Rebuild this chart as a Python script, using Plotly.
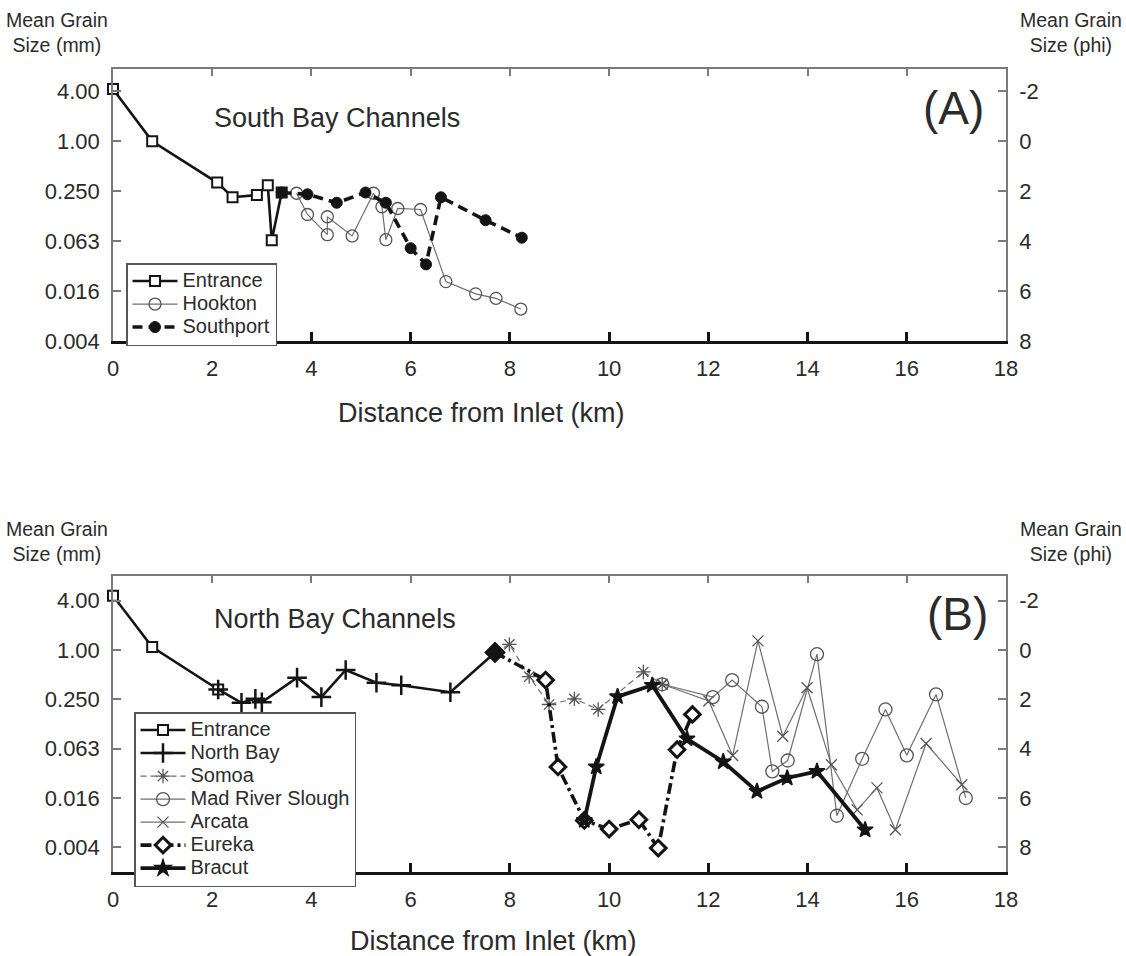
import plotly.graph_objects as go

# ---------------- data (distance in km, grain size in phi) ----------------
mm_tick_labels = ["4.00", "1.00", "0.250", "0.063", "0.016", "0.004"]
phi_tick_vals = [-2, 0, 2, 4, 6, 8]
phi_tick_labels = ["-2", "0", "2", "4", "6", "8"]
km_tick_vals = [0, 2, 4, 6, 8, 10, 12, 14, 16, 18]

# Panel A - South Bay Channels
a_entrance_km = [0.0, 0.79, 2.10, 2.41, 2.90, 3.12, 3.20, 3.40]
a_entrance_phi = [-2.1, 0.0, 1.65, 2.24, 2.15, 1.76, 3.96, 2.05]
hookton_km = [3.70, 3.92, 4.32, 4.32, 4.82, 5.25, 5.42, 5.50, 5.74, 6.20, 6.71, 7.31, 7.72, 8.22]
hookton_phi = [2.08, 2.93, 3.74, 3.02, 3.79, 2.08, 2.62, 3.94, 2.69, 2.73, 5.62, 6.11, 6.29, 6.72]
southport_km = [3.40, 3.92, 4.51, 5.09, 5.50, 6.00, 6.31, 6.61, 7.51, 8.24]
southport_phi = [2.05, 2.12, 2.46, 2.05, 2.46, 4.28, 4.93, 2.24, 3.16, 3.86]

# Panel B - North Bay Channels
b_entrance_km = [0.0, 0.79, 2.12]
b_entrance_phi = [-2.2, -0.12, 1.60]
northbay_km = [2.12, 2.59, 2.87, 3.00, 3.71, 4.20, 4.69, 5.31, 5.81, 6.80, 7.70]
northbay_phi = [1.60, 2.14, 1.98, 2.12, 1.12, 1.91, 0.81, 1.33, 1.43, 1.71, 0.10]
somoa_km = [7.70, 7.99, 8.39, 8.79, 9.30, 9.78, 10.69, 11.07]
somoa_phi = [0.10, -0.23, 1.08, 2.21, 1.98, 2.41, 0.89, 1.39]
madriver_km = [11.07, 12.09, 12.48, 13.08, 13.29, 13.60, 14.19, 14.59, 15.10, 15.57, 16.00, 16.59, 17.19]
madriver_phi = [1.39, 1.91, 1.22, 2.30, 4.92, 4.48, 0.17, 6.72, 4.41, 2.41, 4.27, 1.80, 6.00]
arcata_km = [11.07, 12.01, 12.49, 13.00, 13.50, 13.99, 14.48, 15.00, 15.40, 15.77, 16.39, 17.11]
arcata_phi = [1.39, 2.07, 4.28, -0.37, 3.50, 1.53, 4.65, 6.48, 5.59, 7.29, 3.79, 5.46]
eureka_km = [7.70, 8.72, 8.97, 9.50, 10.00, 10.60, 10.99, 11.37, 11.68]
eureka_phi = [0.10, 1.22, 4.74, 6.91, 7.26, 6.88, 8.03, 4.04, 2.61]
bracut_km = [9.50, 9.74, 10.17, 10.87, 11.57, 12.30, 12.98, 13.59, 14.19, 15.16]
bracut_phi = [6.91, 4.74, 1.89, 1.43, 3.60, 4.53, 5.73, 5.19, 4.92, 7.29]

# ---------------- layout helpers ----------------
W, H = 1126, 956
FONT = "Liberation Sans, Arial, Helvetica, sans-serif"
TXT = "#2b2b2b"
BLACK = "#141414"
GRAY = "#6e6e6e"
FRAME = "#7a7a7a"


def px(x):
    return x / W


def py(y):
    return 1 - y / H


def lname(s):
    return '<span style="font-size:20px">' + s + "</span>"


fig = go.Figure()


def add(x, y, name, xa, ya, legend, rank, line, marker):
    fig.add_trace(go.Scatter(
        x=x, y=y, name=lname(name), mode="lines+markers",
        xaxis=xa, yaxis=ya, legend=legend, legendrank=rank,
        line=line, marker=marker, cliponaxis=False, hoverinfo="skip"))


# ---- Panel A ----
add(hookton_km, hookton_phi, "Hookton", "x", "y", "legend", 2,
    dict(color=GRAY, width=1.2),
    dict(symbol="circle", size=12, color="rgba(255,255,255,0)", line=dict(color="#555", width=1.3)))
add(a_entrance_km, a_entrance_phi, "Entrance", "x", "y", "legend", 1,
    dict(color=BLACK, width=2.6),
    dict(symbol="square", size=10, color="white", line=dict(color=BLACK, width=2)))
add(southport_km, southport_phi, "Southport", "x", "y", "legend", 3,
    dict(color=BLACK, width=3.6, dash="10px,6px"),
    dict(symbol="circle", size=11, color=BLACK, line=dict(color=BLACK, width=1)))

# ---- Panel B ----
add(madriver_km, madriver_phi, "Mad River Slough", "x3", "y3", "legend2", 4,
    dict(color=GRAY, width=1.2),
    dict(symbol="circle", size=13, color="rgba(255,255,255,0)", line=dict(color="#555", width=1.3)))
add(arcata_km, arcata_phi, "Arcata", "x3", "y3", "legend2", 5,
    dict(color=GRAY, width=1.2),
    dict(symbol="x-thin-open", size=11, color="#555", line=dict(color="#555", width=1.3)))
add(somoa_km, somoa_phi, "Somoa", "x3", "y3", "legend2", 3,
    dict(color=GRAY, width=1.2, dash="6px,4px"),
    dict(symbol="asterisk-open", size=12, color="#555", line=dict(color="#555", width=1.3)))
add(b_entrance_km, b_entrance_phi, "Entrance", "x3", "y3", "legend2", 1,
    dict(color=BLACK, width=2.6),
    dict(symbol="square", size=10, color="white", line=dict(color=BLACK, width=2)))
add(eureka_km, eureka_phi, "Eureka", "x3", "y3", "legend2", 6,
    dict(color=BLACK, width=3.6, dash="11px,4px,3px,4px"),
    dict(symbol="diamond", size=12, color="white", line=dict(color=BLACK, width=3)))
add(northbay_km, northbay_phi, "North Bay", "x3", "y3", "legend2", 2,
    dict(color=BLACK, width=2.6),
    dict(symbol=["cross-thin-open"] * (len(northbay_km) - 1) + ["diamond"], size=14,
         color=BLACK, line=dict(color=BLACK, width=2.5)))
add(bracut_km, bracut_phi, "Bracut", "x3", "y3", "legend2", 7,
    dict(color=BLACK, width=3.8),
    dict(symbol="star", size=12, color=BLACK, line=dict(color=BLACK, width=1.5)))

# helper (empty) traces so the top and right frame axes are drawn
for xa, ya in [("x2", "y"), ("x", "y2"), ("x4", "y3"), ("x3", "y4")]:
    fig.add_trace(go.Scatter(x=[None], y=[None], xaxis=xa, yaxis=ya, showlegend=False,
                             hoverinfo="skip", mode="markers"))

tickfont = dict(family=FONT, size=22, color=TXT)


def bottom_x(anchor):
    return dict(domain=[px(113), px(1006)], anchor=anchor, range=[0, 18], tickvals=km_tick_vals,
                ticks="inside", ticklen=9, tickwidth=2.5, tickcolor=BLACK,
                showline=True, linecolor=BLACK, linewidth=3, showgrid=False, zeroline=False,
                tickfont=tickfont, ticklabelstandoff=6, automargin=False)


def top_x(over, anchor):
    return dict(overlaying=over, anchor=anchor, side="top", range=[0, 18], tickvals=km_tick_vals,
                ticks="inside", ticklen=7, tickwidth=1.5, tickcolor=FRAME,
                showline=True, linecolor=FRAME, linewidth=1.5, showgrid=False, zeroline=False,
                showticklabels=False, automargin=False)


def left_y(anchor, dom, rng):
    return dict(domain=dom, anchor=anchor, range=rng, tickvals=phi_tick_vals, ticktext=mm_tick_labels,
                ticks="inside", ticklen=8, tickwidth=1.5, tickcolor=FRAME,
                showline=True, linecolor=FRAME, linewidth=1.5, showgrid=False, zeroline=False,
                tickfont=tickfont, ticklabelstandoff=7, automargin=False)


def right_y(over, anchor, rng):
    return dict(overlaying=over, anchor=anchor, side="right", range=rng, tickvals=phi_tick_vals,
                ticktext=phi_tick_labels, ticks="inside", ticklen=8, tickwidth=1.5, tickcolor=FRAME,
                showline=True, linecolor=FRAME, linewidth=1.5, showgrid=False, zeroline=False,
                tickfont=tickfont, ticklabelstandoff=7, automargin=False)


dom_a = [py(341), py(69)]
dom_b = [py(872), py(576)]
rng_a = [8, -2.9]
rng_b = [9, -3]

legend_common = dict(xanchor="left", yanchor="top", bgcolor="white", bordercolor="#555",
                     borderwidth=1.5, font=dict(family=FONT, size=15.4, color=TXT),
                     tracegroupgap=0, itemwidth=45)

ann_font = dict(family=FONT, color=TXT)
annotations = []


def ann(text, x, y, size, xanchor="center"):
    annotations.append(dict(text=text, x=px(x), y=py(y), xref="paper", yref="paper",
                            showarrow=False, xanchor=xanchor, yanchor="middle",
                            font=dict(size=size, **ann_font)))


ann("Mean Grain<br>Size (mm)", 57, 33, 19.5)
ann("Mean Grain<br>Size (phi)", 1071, 33, 19.5)
ann("Mean Grain<br>Size (mm)", 57, 541, 19.5)
ann("Mean Grain<br>Size (phi)", 1071, 541, 19.5)
ann("Distance from Inlet (km)", 481, 413, 27)
ann("Distance from Inlet (km)", 493, 941, 27)
ann("South Bay Channels", 337, 118, 27)
ann("North Bay Channels", 335, 619, 27)
ann("(A)", 953, 108, 46)
ann("(B)", 957, 614, 46)

fig.update_layout(
    width=W, height=H, margin=dict(l=0, r=0, t=0, b=0, autoexpand=False),
    paper_bgcolor="white", plot_bgcolor="white",
    font=dict(family=FONT, color=TXT),
    xaxis=bottom_x("y"), xaxis2=top_x("x", "y"),
    yaxis=left_y("x", dom_a, rng_a), yaxis2=right_y("y", "x", rng_a),
    xaxis3=bottom_x("y3"), xaxis4=top_x("x3", "y3"),
    yaxis3=left_y("x3", dom_b, rng_b), yaxis4=right_y("y3", "x3", rng_b),
    legend=dict(x=px(126), y=py(263), **legend_common),
    legend2=dict(x=px(134), y=py(712), **legend_common),
    annotations=annotations,
    showlegend=True,
)

fig.write_html("out.html")
